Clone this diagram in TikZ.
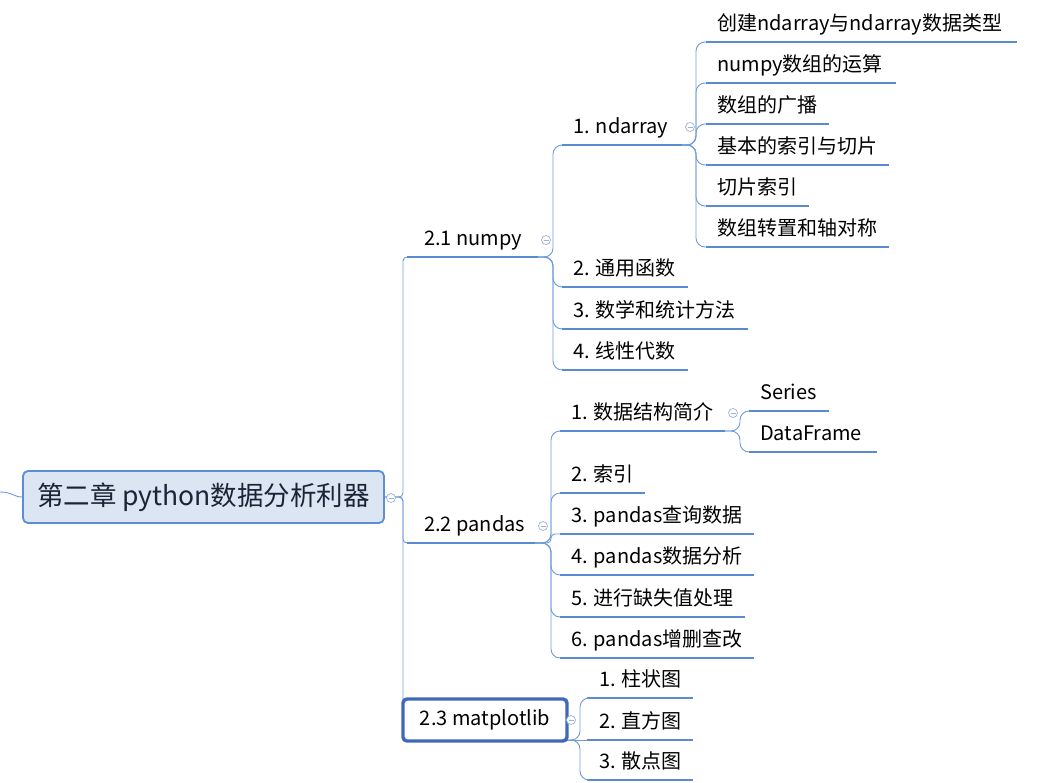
\documentclass[tikz,border=0pt]{standalone}
\usepackage{fontspec}
\setmainfont{Noto Sans CJK SC}
\definecolor{ulc}{HTML}{5A8BD0}
\definecolor{clc}{HTML}{6F9BDC}
\definecolor{colc}{HTML}{9AB2DA}
\definecolor{rootfill}{HTML}{DCE6F2}
\definecolor{rootdraw}{HTML}{5B8ED6}
\definecolor{mpldraw}{HTML}{4068B8}
\definecolor{rtext}{HTML}{1B2436}
\tikzset{
  uline/.style={draw=ulc, line width=2.6pt},
  cline/.style={draw=clc, line width=0.9pt},
  lbl/.style={anchor=base west, inner sep=0pt, font=\fontsize{20}{24}\selectfont, text=black},
  coll/.style={circle, draw=colc, line width=0.7pt, minimum size=9pt, inner sep=0pt, fill=white},
}
\newcommand\leaf[6]{%
  \coordinate (#1L) at (#2,#4);
  \coordinate (#1R) at (#3,#4);
  \draw[uline] (#1L) -- (#1R);
  \node[lbl] (#1) at (#5,#4-11.5) {#6};}
\newcommand\collapse[3]{%
  \node[coll] (#1) at (#2,#3) {};
  \draw[colc, line width=0.7pt] ([xshift=-2.5pt]#1.center) -- ([xshift=2.5pt]#1.center);}
\newcommand\branch[4]{%
  \draw[cline, rounded corners=#4] (#1) -- (#1 -| #2) |- (#3);}
\begin{document}
\begin{tikzpicture}[x=1pt,y=-1pt]
\useasboundingbox (0,0) rectangle (1048,782);
% branch x coordinates
\coordinate (rbx) at (403,0);
\coordinate (nbx) at (553,0);
\coordinate (abx) at (696,0);
\coordinate (pbx) at (551,0);
\coordinate (sbx) at (740,0);
\coordinate (mbx) at (580,0);
\coordinate (lf) at (0,492);
\coordinate (mplin) at (403,712);

% root children
\leaf{np}{407}{538}{257}{424}{2.1 numpy}
\leaf{pd}{407}{535}{543}{424}{2.2 pandas}
% numpy children
\leaf{nd}{562}{682}{145}{573}{1. ndarray}
\leaf{n2}{562}{688}{287}{573}{2. 通用函数}
\leaf{n3}{562}{748}{329}{573}{3. 数学和统计方法}
\leaf{n4}{562}{688}{370}{573}{4. 线性代数}
% ndarray children
\leaf{c1}{706}{1017}{42}{717}{创建ndarray与ndarray数据类型}
\leaf{c2}{706}{896}{83}{717}{numpy数组的运算}
\leaf{c3}{706}{829}{124}{717}{数组的广播}
\leaf{c4}{706}{889}{165}{717}{基本的索引与切片}
\leaf{c5}{706}{809}{206}{717}{切片索引}
\leaf{c6}{706}{889}{247}{717}{数组转置和轴对称}
% pandas children
\leaf{p1}{560}{725}{431}{571}{1. 数据结构简介}
\leaf{p2}{560}{645}{493}{571}{2. 索引}
\leaf{p3}{560}{754}{534}{571}{3. pandas查询数据}
\leaf{p4}{560}{754}{575}{571}{4. pandas数据分析}
\leaf{p5}{560}{745}{617}{571}{5. 进行缺失值处理}
\leaf{p6}{560}{754}{658}{571}{6. pandas增删查改}
% data structure children
\leaf{s1}{749}{829}{411}{760}{Series}
\leaf{s2}{749}{877}{452}{760}{DataFrame}
% matplotlib children
\leaf{m1}{587}{693}{698}{599}{1. 柱状图}
\leaf{m2}{587}{693}{740}{599}{2. 直方图}
\leaf{m3}{587}{693}{780}{599}{3. 散点图}

% root box
\node[draw=rootdraw, fill=rootfill, line width=1.8pt, rounded corners=5pt,
      minimum width=361pt, minimum height=52pt, inner sep=0pt,
      font=\fontsize{26.5}{31}\selectfont, text=rtext] (root) at (203.5,497) {第二章 python数据分析利器};
% matplotlib box corner
\coordinate (mplBR) at (567,740);

% connectors
\draw[cline] (lf) .. controls (12,492) and (14,497) .. (root.west);
\branch{root.east}{rbx}{npL}{4}
\branch{root.east}{rbx}{pdL}{4}
\draw[cline, rounded corners=4] (root.east) -- (root.east -| rbx) -- (mplin);
\branch{npR}{nbx}{ndL}{9}
\branch{npR}{nbx}{n2L}{9}
\branch{npR}{nbx}{n3L}{9}
\branch{npR}{nbx}{n4L}{9}
\branch{ndR}{abx}{c1L}{9}
\branch{ndR}{abx}{c2L}{9}
\branch{ndR}{abx}{c3L}{9}
\branch{ndR}{abx}{c4L}{9}
\branch{ndR}{abx}{c5L}{9}
\branch{ndR}{abx}{c6L}{9}
\branch{pdR}{pbx}{p1L}{9}
\branch{pdR}{pbx}{p2L}{9}
\branch{pdR}{pbx}{p3L}{4}
\branch{pdR}{pbx}{p4L}{9}
\branch{pdR}{pbx}{p5L}{9}
\branch{pdR}{pbx}{p6L}{9}
\branch{p1R}{sbx}{s1L}{9}
\branch{p1R}{sbx}{s2L}{9}
\branch{mplBR}{mbx}{m1L}{9}
\draw[cline] (mplBR) -- (m2L);
\branch{mplBR}{mbx}{m3L}{9}

\node[draw=mpldraw, fill=white, line width=3.4pt, rounded corners=4pt,
      minimum width=164pt, minimum height=42pt, inner sep=0pt,
      font=\fontsize{20}{24}\selectfont] (mpl) at (485,720) {2.3 matplotlib};

% collapse markers
\collapse{k0}{391}{498}
\collapse{k1}{546}{240}
\collapse{k2}{543}{526}
\collapse{k3}{571}{720}
\collapse{k4}{690}{127}
\collapse{k5}{733}{413}
\end{tikzpicture}
\end{document}
